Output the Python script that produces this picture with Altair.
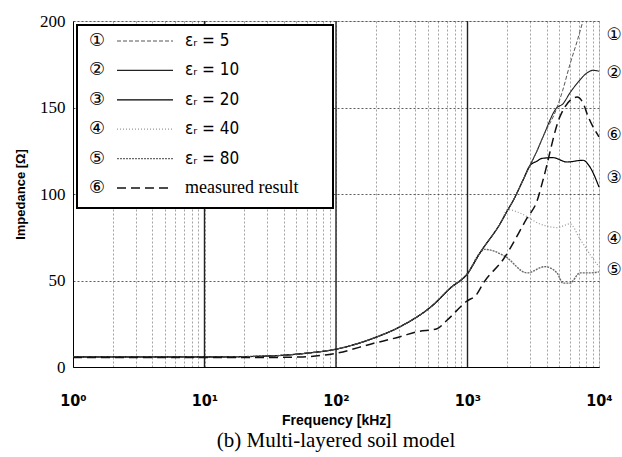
import altair as alt
import pandas as pd

# ---------------- data ----------------
series = ["e5", "e10", "e20", "e40", "e80", "meas"]
legend_circled = ["①", "②", "③", "④", "⑤", "⑥"]
legend_labels = ["εᵣ = 5", "εᵣ = 10", "εᵣ = 20", "εᵣ = 40", "εᵣ = 80", "measured result"]

# shared low-frequency part of the simulated curves (kHz, Ohm)
common_f = [1, 3, 10, 20, 40, 60, 100, 190, 307, 550, 740, 1000, 1245]
common_z = [5.8, 5.8, 5.8, 6.0, 6.8, 8.0, 10.3, 16.5, 23.3, 36, 45.6, 54, 66]
mid1_f = [1766, 2032]
mid1_z = [82.7, 91]
mid2_f = [2218, 2642, 2987]
mid2_z = [96, 108, 116.5]
mid3_f = [3380, 3750, 4795]
mid3_z = [125, 133, 150]

c5_f = [1350, 1928, 2833, 3883, 4795, 5321, 6015, 7173, 8550, 10000]
c5_z = [68, 64, 54.4, 58, 54.4, 48.5, 48.5, 54.4, 54.4, 55]
c4_f = [2507, 3557, 4795, 6015, 7173, 8550, 10000]
c4_z = [89, 82.7, 80.6, 82.7, 74, 65, 58]
c3_f = [3380, 3686, 4467, 5710, 7550, 8550, 10000]
c3_z = [119, 120.6, 121, 118.5, 119.5, 115.5, 104]
c2_f = [5300, 6015, 7000, 8110, 9000, 10000]
c2_z = [152, 158.5, 165, 170, 171.5, 171]
c1_f = [5300, 6015, 6800, 7550]
c1_z = [160, 175, 188, 200]

meas_f = [1, 3, 10, 30, 53, 98, 191, 307, 413, 586, 698, 986, 1175, 1320, 1862, 2833, 3380,
          3750, 5047, 6808, 7550, 8245, 10000]
meas_z = [5.5, 5.5, 5.5, 5.5, 5.8, 7.8, 13.6, 17.5, 20.4, 22.1, 27, 38, 42, 48.5, 62, 86, 96,
          108, 144.7, 156, 152.7, 145, 133]

right_label_z = [192, 170, 109, 74, 56, 134]   # y of circled labels right of the plot

decades = [10, 100, 1000]

# ---------------- build table ----------------
paths = {
    "e80": (common_f + c5_f, common_z + c5_z),
    "e40": (common_f + mid1_f + c4_f, common_z + mid1_z + c4_z),
    "e20": (common_f + mid1_f + mid2_f + c3_f, common_z + mid1_z + mid2_z + c3_z),
    "e10": (common_f + mid1_f + mid2_f + mid3_f + c2_f, common_z + mid1_z + mid2_z + mid3_z + c2_z),
    "e5": (common_f + mid1_f + mid2_f + mid3_f + c1_f, common_z + mid1_z + mid2_z + mid3_z + c1_z),
    "meas": (meas_f, meas_z),
}
rows = []
for s, (fs, zs) in paths.items():
    for f, z in zip(fs, zs):
        rows.append({"series": s, "f": f, "z": z})
df = pd.DataFrame(rows)

legend_df = pd.DataFrame({
    "series": series,
    "circ": legend_circled,
    "label": legend_labels,
    "row": list(range(len(series))),
})
right_df = pd.DataFrame({"series": series, "circ": legend_circled, "z": right_label_z, "f": [10000] * 6})
dec_df = pd.DataFrame({"f": decades})

# ---------------- styles ----------------
colors = ["#555555", "#222222", "#000000", "#9a9a9a", "#6a6a6a", "#111111"]
dashes = [[4, 2], [1, 0], [1, 0], [1, 2], [2, 1], [9, 5]]
widths = [1.0, 1.5, 2.0, 1.0, 1.0, 1.6]

color_enc = alt.Color("series:N", scale=alt.Scale(domain=series, range=colors), legend=None)
dash_enc = alt.StrokeDash("series:N", scale=alt.Scale(domain=series, range=dashes), legend=None)
width_enc = alt.StrokeWidth("series:N", scale=alt.Scale(domain=series, range=widths), legend=None)

W, H = 526, 346

x_ticks = [m * 10 ** d for d in range(4) for m in range(1, 10)] + [10000]
label_expr = ("indexof([1,10,100,1000,10000], datum.value) >= 0 ? "
              "'10' + ['⁰','¹','²','³','⁴'][indexof([1,10,100,1000,10000], datum.value)] : ''")

x_enc = alt.X("f:Q", scale=alt.Scale(type="log", domain=[1, 10000], nice=False),
              axis=alt.Axis(values=x_ticks, labelExpr=label_expr, title="Frequency [kHz]",
                            grid=True, gridDash=[2, 2], gridColor="#8a8a8a", gridWidth=0.8,
                            ticks=False, labelFont="DejaVu Sans Condensed", labelFontWeight="bold",
                            labelFontSize=16, labelPadding=25, labelColor="black",
                            labelFlush=False, labelOverlap=False,
                            titleFont="Liberation Sans", titleFontWeight="bold", titleFontSize=14,
                            titleColor="black", titlePadding=5, domainColor="black"))
y_enc = alt.Y("z:Q", scale=alt.Scale(domain=[0, 200], nice=False),
              axis=alt.Axis(values=[0, 50, 100, 150, 200], title="Impedance [Ω]",
                            grid=True, gridDash=[2, 2], gridColor="#333333", gridWidth=0.8,
                            ticks=False, labelFont="Liberation Sans Narrow", labelFontSize=17,
                            labelColor="black", labelPadding=8,
                            titleFont="Liberation Sans", titleFontWeight="bold", titleFontSize=13,
                            titleColor="black", titlePadding=12, domainColor="black"))

dec_rules = alt.Chart(dec_df).mark_rule(color="#222222", strokeWidth=1.4).encode(
    x=alt.X("f:Q", scale=alt.Scale(type="log", domain=[1, 10000], nice=False))
)

lines = alt.Chart(df).mark_line(interpolate="monotone").encode(
    x=x_enc, y=y_enc, color=color_enc, strokeDash=dash_enc, strokeWidth=width_enc,
    detail="series:N", order="f:Q"
)

right_labels = alt.Chart(right_df).mark_text(
    dx=15, font="DejaVu Sans", fontSize=17, color="black", align="center", baseline="middle"
).encode(x="f:Q", y="z:Q", text="circ:N")

main = alt.layer(dec_rules, lines, right_labels)

# ---------------- legend box ----------------
box = alt.Chart(pd.DataFrame({"k": [0]})).mark_rect(
    fill="white", stroke="black", strokeWidth=2
).encode(x=alt.value(4), x2=alt.value(260), y=alt.value(4), y2=alt.value(187))

leg_base = alt.Chart(legend_df).transform_calculate(py="20 + datum.row * 29.4")

leg_lines = leg_base.mark_rule().encode(
    x=alt.value(44), x2=alt.value(100),
    y=alt.Y("py:Q", scale=None, axis=None),
    color=color_enc, strokeDash=dash_enc, strokeWidth=width_enc
)
leg_circ = leg_base.mark_text(font="DejaVu Sans", fontSize=18, color="black", align="center",
                              baseline="middle").encode(
    x=alt.value(24), y=alt.Y("py:Q", scale=None, axis=None), text="circ:N"
)
leg_eps = leg_base.transform_filter("datum.series != 'meas'").mark_text(
    font="DejaVu Sans Condensed", fontSize=17, color="black", align="left", baseline="middle"
).encode(x=alt.value(112), y=alt.Y("py:Q", scale=None, axis=None), text="label:N")
leg_meas = leg_base.transform_filter("datum.series == 'meas'").mark_text(
    font="Liberation Serif", fontSize=18, color="black", align="left", baseline="middle"
).encode(x=alt.value(112), y=alt.Y("py:Q", scale=None, axis=None), text="label:N")

legend = alt.layer(box, leg_lines, leg_circ, leg_eps, leg_meas)

chart = alt.layer(main, legend).resolve_scale(y="independent").properties(
    width=W, height=H,
    padding={"left": 73, "top": 21, "right": 23, "bottom": 90},
    autosize=alt.AutoSizeParams(type="none"),
    title=alt.TitleParams("(b) Multi-layered soil model", orient="bottom", font="Liberation Serif",
                          fontSize=21, fontWeight="normal", color="black", offset=3),
).configure_view(stroke="black", strokeWidth=1.6).configure(background="white")

chart.save("out.html", embed_options={"renderer": "svg", "actions": False})
